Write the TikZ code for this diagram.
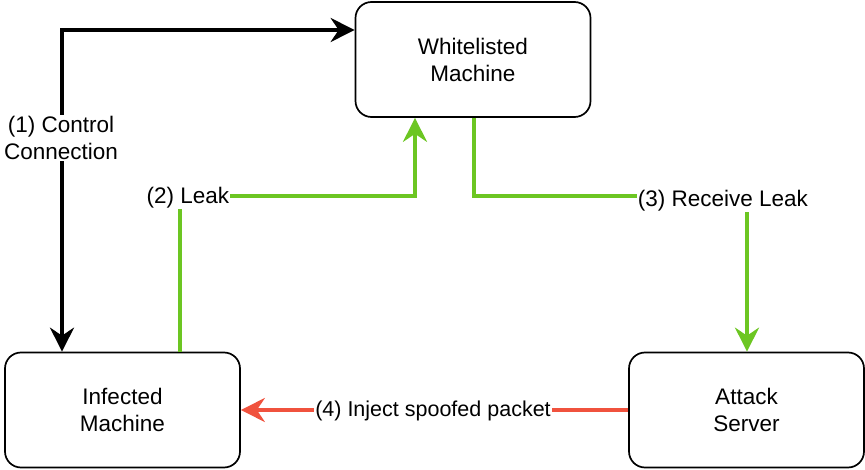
\documentclass[tikz,border=0pt]{standalone}
\usepackage{fontspec}
\setmainfont{Liberation Sans}
\usetikzlibrary{arrows.meta}

\definecolor{leakgreen}{RGB}{108,198,34}
\definecolor{injectred}{RGB}{240,82,62}

\tikzset{
  >={Stealth[length=24pt,width=24pt,inset=8pt]},
  machine/.style={draw, line width=1.7pt, rounded corners=16pt, minimum width=235pt,
    minimum height=115pt, align=center, font=\fontsize{22.5}{27}\selectfont},
  conn/.style={line width=3.5pt, ->},
  lbl/.style={fill=white, inner sep=1pt, align=center, font=\fontsize{22.5}{27}\selectfont},
}

\begin{document}
\begin{tikzpicture}[x=1pt,y=-1pt]
    \useasboundingbox (0,0) rectangle (865,470);

    \node[machine] at (473,59.5) (white) {Whitelisted\\Machine};
    \node[machine] at (122.5,410) (infect) {Infected\\Machine};
    \node[machine] at (746.5,410) (attack) {Attack\\Server};

    \coordinate (ctrlturn) at (62,30);
    \coordinate (leakturn) at (180,196);
    \coordinate (leakup) at (415,196);
    \coordinate (recvdown) at (474,196);
    \coordinate (recvturn) at (747,196);

    \draw[conn,<->] (infect.north -| ctrlturn) -- (ctrlturn) -- (white.west |- ctrlturn);
    \draw[conn,leakgreen] (infect.north -| leakturn) -- (leakturn) -- (leakup) -- (white.south -| leakup);
    \draw[conn,leakgreen] (white.south -| recvdown) -- (recvdown) -- (recvturn) -- (attack.north -| recvturn);
    \draw[conn,injectred] (attack.west) -- (infect.east);

    \node[lbl] at (61,138) (ctrllbl) {(1) Control\\Connection};
    \node[lbl] at (188,198) (leaklbl) {(2) Leak};
    \node[lbl] at (723,201) (recvlbl) {(3) Receive Leak};
    \node[lbl,font=\fontsize{21.5}{25}\selectfont] at (433,411) (injectlbl) {(4) Inject spoofed packet};
\end{tikzpicture}
\end{document}
